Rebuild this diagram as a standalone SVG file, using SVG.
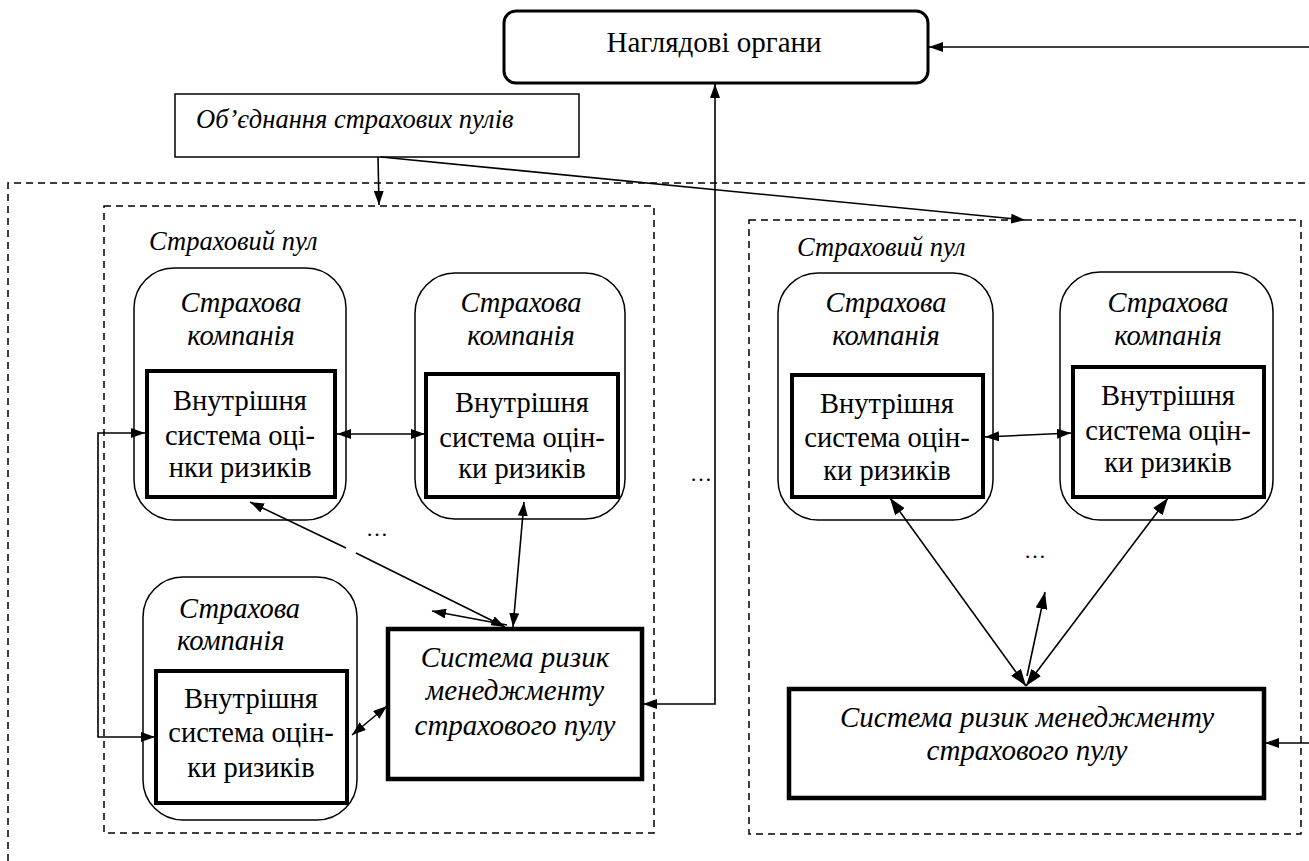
<svg xmlns="http://www.w3.org/2000/svg" width="1309" height="861" viewBox="0 0 1309 861" font-family="'Liberation Serif', 'DejaVu Serif', serif">
<defs>
<marker id="ah" viewBox="0 0 14 10" refX="14" refY="5" markerWidth="14" markerHeight="10" markerUnits="userSpaceOnUse" orient="auto-start-reverse"><path d="M0,0 L14,5 L0,10 z" fill="#000"/></marker>
<marker id="ahL" viewBox="0 0 17 12" refX="17" refY="6" markerWidth="17" markerHeight="12" markerUnits="userSpaceOnUse" orient="auto-start-reverse"><path d="M0,0 L17,6 L0,12 z" fill="#000"/></marker>
</defs>
<style>
text{font-family:'Liberation Serif','DejaVu Serif',serif;fill:#000;font-size:28.5px}
.m{text-anchor:middle}
.i{font-style:italic}
.s{font-size:29px}
.p{font-size:26.5px}
.dash{fill:none;stroke:#000;stroke-width:1.5;stroke-dasharray:7 5}
.co{fill:#fff;stroke:#000;stroke-width:1.5}
.inner{fill:#fff;stroke:#000;stroke-width:4}
.sys{fill:#fff;stroke:#000;stroke-width:4.5}
.c{fill:none;stroke:#000;stroke-width:1.6}
</style>
<rect width="1309" height="861" fill="#fff"/>
<g id="containers">
<path class="dash" d="M8,861 V183 H1309"/>
<rect class="dash" x="104" y="206" width="550" height="627"/>
<rect class="dash" x="749" y="220" width="552" height="614"/>
<text class="i p" x="149" y="250">Страховий пул</text>
<text class="i p" x="797" y="256">Страховий пул</text>
</g>
<g id="nahliad">
<rect x="504" y="11" width="424" height="72" rx="12" fill="#fff" stroke="#000" stroke-width="3"/>
<text class="m" x="714" y="52" style="font-size:29px">Наглядові органи</text>
</g>
<g id="obiednannia">
<rect x="175" y="94" width="404" height="63" fill="#fff" stroke="#000" stroke-width="1.5"/>
<text class="i" x="196" y="128" style="font-size:26.5px">Об’єднання страхових пулів</text>
</g>
<g id="company1">
<rect class="co" x="134" y="268" width="212" height="252" rx="40"/>
<text class="i m" x="241" y="312">Страхова</text>
<text class="i m" x="241" y="345">компанія</text>
<rect class="inner" x="147" y="371" width="188" height="126"/>
<text class="m" x="240" y="410">Внутрішня</text>
<text class="m" x="240" y="445">система оці-</text>
<text class="m" x="240" y="477">нки ризиків</text>
</g>
<g id="company2">
<rect class="co" x="415" y="273" width="210" height="246" rx="40"/>
<text class="i m" x="521" y="312">Страхова</text>
<text class="i m" x="521" y="345">компанія</text>
<rect class="inner" x="426" y="374" width="192" height="123"/>
<text class="m" x="522" y="412">Внутрішня</text>
<text class="m" x="522" y="447">система оцін-</text>
<text class="m" x="522" y="478">ки ризиків</text>
</g>
<g id="company3">
<rect class="co" x="143" y="577" width="214" height="243" rx="40"/>
<text class="i" x="179" y="618">Страхова</text>
<text class="i" x="177" y="650">компанія</text>
<rect class="inner" x="156" y="671" width="191" height="132"/>
<text class="m" x="251" y="708">Внутрішня</text>
<text class="m" x="251" y="742">система оцін-</text>
<text class="m" x="251" y="777">ки ризиків</text>
</g>
<g id="system-left">
<rect class="sys" x="388" y="629" width="254" height="150"/>
<text class="i m s" x="515" y="667">Система ризик</text>
<text class="i m s" x="515" y="700">менеджменту</text>
<text class="i m s" x="515" y="735">страхового пулу</text>
</g>
<g id="company4">
<rect class="co" x="778" y="273" width="215" height="247" rx="40"/>
<text class="i m" x="886" y="312">Страхова</text>
<text class="i m" x="886" y="345">компанія</text>
<rect class="inner" x="792" y="375" width="191" height="122"/>
<text class="m" x="887" y="413">Внутрішня</text>
<text class="m" x="887" y="447">система оцін-</text>
<text class="m" x="887" y="480">ки ризиків</text>
</g>
<g id="company5">
<rect class="co" x="1060" y="272" width="213" height="248" rx="40"/>
<text class="i m" x="1168" y="312">Страхова</text>
<text class="i m" x="1168" y="345">компанія</text>
<rect class="inner" x="1073" y="367" width="191" height="130"/>
<text class="m" x="1168" y="405">Внутрішня</text>
<text class="m" x="1168" y="440">система оцін-</text>
<text class="m" x="1168" y="472">ки ризиків</text>
</g>
<g id="system-right">
<rect class="sys" x="789" y="689" width="475" height="109"/>
<text class="i m s" x="1027" y="727">Система ризик менеджменту</text>
<text class="i m s" x="1027" y="760">страхового пулу</text>
</g>
<g id="ellipses">
<text class="m" x="377" y="536" style="font-size:22px">…</text>
<text class="m" x="701" y="481" style="font-size:22px">…</text>
<text class="m" x="1035" y="558" style="font-size:22px">…</text>
</g>
<g id="connectors">
<path class="c" d="M1309,47 H929" marker-end="url(#ah)"/>
<path class="c" d="M643,704 H715 V84" marker-start="url(#ah)" marker-end="url(#ah)"/>
<path class="c" d="M378,157 L379,205" marker-end="url(#ah)"/>
<path class="c" d="M381,157 L1025,220" marker-end="url(#ah)"/>
<path class="c" d="M145,433 H98 V737 H155" marker-start="url(#ah)" marker-end="url(#ah)"/>
<path class="c" d="M337,434 L425,434" marker-start="url(#ah)" marker-end="url(#ah)"/>
<path class="c" d="M985,437 L1071,433" marker-start="url(#ah)" marker-end="url(#ah)"/>
<path class="c" d="M250,502 L346,548" marker-start="url(#ah)"/>
<path class="c" d="M356,553 L505,627" marker-end="url(#ah)"/>
<path class="c" d="M524,502 L513,627" marker-start="url(#ah)" marker-end="url(#ah)"/>
<path class="c" d="M507,625 L432,611" marker-end="url(#ah)"/>
<path class="c" d="M352,735 L387,706" marker-start="url(#ah)" marker-end="url(#ah)"/>
<path class="c" d="M890,498 L1026,686" stroke-width="2" marker-start="url(#ahL)" marker-end="url(#ahL)"/>
<path class="c" d="M1168,498 L1026,686" stroke-width="2" marker-start="url(#ahL)" marker-end="url(#ahL)"/>
<path class="c" d="M1027,676 L1045,592" marker-end="url(#ahL)"/>
<path class="c" d="M1309,743 H1265" marker-end="url(#ah)"/>
</g>
</svg>
